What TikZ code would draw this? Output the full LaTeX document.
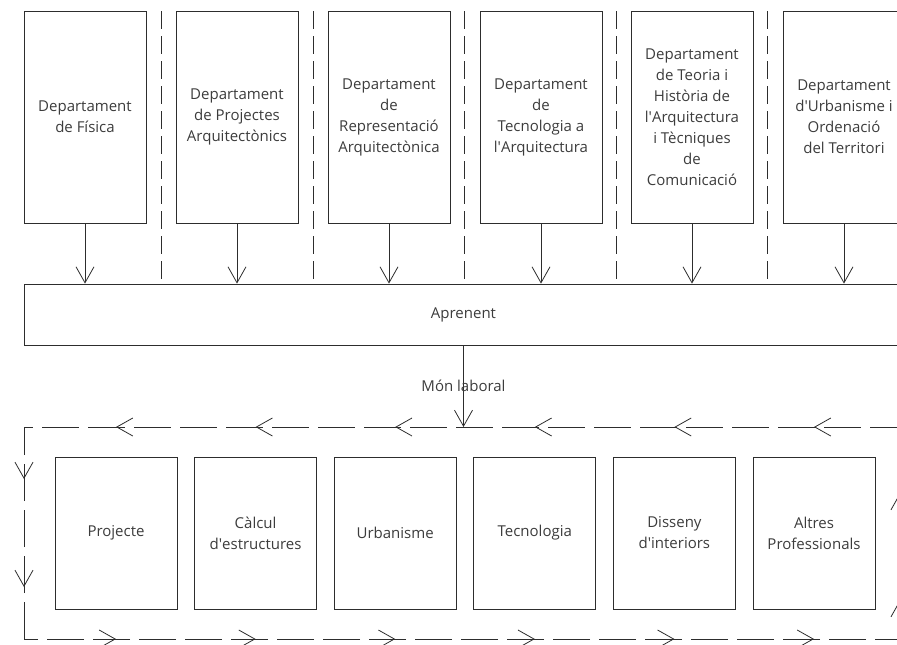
\documentclass[tikz,border=0pt]{standalone}
\usepackage{fontspec}
\setmainfont{Open Sans}
\usepackage{tikz}
\usetikzlibrary{calc}
\usetikzlibrary{arrows.meta}
\usetikzlibrary{positioning}
\usepackage{color}
\definecolor{ink}{RGB}{45, 45, 45}
\definecolor{lettering}{RGB}{60, 60, 60}
\newcommand{\apos}{\textquotesingle}

\tikzset{
  deptbox/.style={draw=ink, line width=0.8pt, minimum width=122pt, minimum height=212pt,
                  inner sep=0pt, align=center, text=lettering, font=\fontsize{15}{21}\selectfont},
  profbox/.style={deptbox, minimum height=152pt},
  feed/.style={ink, line width=0.8pt, -{Straight Barb[length=16pt, width=18pt, line width=0.8pt]}},
  sepline/.style={ink, line width=0.8pt, dash pattern=on 18pt off 7pt},
  cycleline/.style={ink, line width=0.8pt, dash pattern=on 37pt off 9pt},
}

\begin{document}
\begin{tikzpicture}[x=1pt, y=-1pt]
            \clip (0, 0) rectangle (897, 645);
            % departaments
            \node[deptbox] (dept1) at ( 85, 117) {Departament\\de Física};
            \node[deptbox] (dept2) at (237, 117) {Departament\\de Projectes\\Arquitectònics};
            \node[deptbox] (dept3) at (389, 117) {Departament\\de\\Representació\\Arquitectònica};
            \node[deptbox] (dept4) at (541, 117) {Departament\\de\\Tecnologia a\\l\apos Arquitectura};
            \node[deptbox] (dept5) at (692, 117) {Departament\\de Teoria i\\Història de\\l\apos Arquitectura\\i Tècniques\\de\\Comunicació};
            \node[deptbox] (dept6) at (844, 117) {Departament\\d\apos Urbanisme i\\Ordenació\\del Territori};
            \node[deptbox, minimum width=879pt, minimum height=61pt] (aprenent) at (463.5, 314.5) {Aprenent};
            \foreach \i in {1,...,6}
                \draw[feed] (dept\i.south) -- (dept\i |- aprenent.north);
            \foreach \x in {161, 313, 464, 616, 767}
                \draw[sepline] (\x, 11) -- (\x, 11 |- aprenent.north);
            % mon laboral
            \coordinate (cyctl) at ( 24, 427);
            \coordinate (cycbr) at (900, 639);
            \node[profbox] (prof1) at (116.0, 533) {Projecte};
            \node[profbox] (prof2) at (255.6, 533) {Càlcul\\d\apos estructures};
            \node[profbox] (prof3) at (395.2, 533) {Urbanisme};
            \node[profbox] (prof4) at (534.8, 533) {Tecnologia};
            \node[profbox] (prof5) at (674.4, 533) {Disseny\\d\apos interiors};
            \node[profbox] (prof6) at (814.0, 533) {Altres\\Professionals};
            \draw[cycleline] (cyctl |- cycbr) -- (cyctl) -- (cycbr |- cyctl) -- (cycbr) -- cycle;
            \draw[feed] (aprenent.south) -- node[text=lettering, font=\fontsize{15}{21}\selectfont] {Món laboral} (aprenent.south |- cyctl);
            \foreach \i in {1,...,6} {
                \draw[feed] ($(prof\i |- cyctl)+(1, 0)$) -- (prof\i |- cyctl);
                \draw[feed] ($(prof\i |- cycbr)+(-1, 0)$) -- (prof\i |- cycbr);
            }
            \foreach \y in {479, 587}
                \draw[feed] ($(cyctl |- 0, \y)+(0, -1)$) -- (cyctl |- 0, \y);
            \foreach \y in {493, 600}
                \draw[feed] ($(cycbr |- 0, \y)+(0, 1)$) -- (cycbr |- 0, \y);
        \end{tikzpicture}
\end{document}
